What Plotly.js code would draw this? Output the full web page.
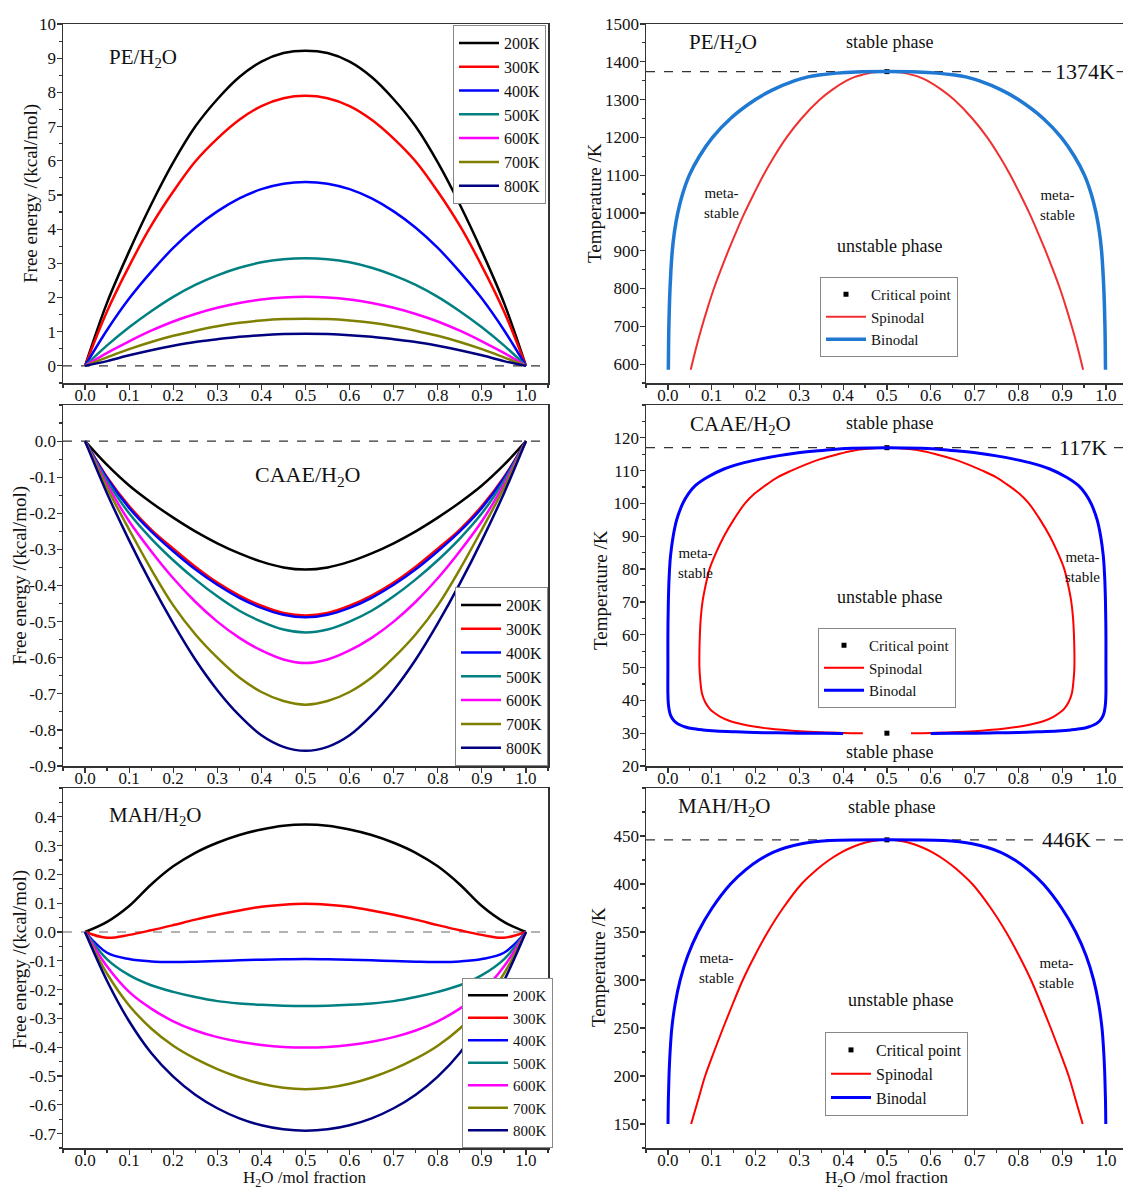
<!DOCTYPE html>
<html>
<head>
<meta charset="utf-8">
<script src="https://cdn.plot.ly/plotly-3.0.1.min.js"></script>
<style>html,body{margin:0;padding:0;background:#fff;overflow:hidden}#chart{width:1123px;height:1189px}</style>
</head>
<body>
<div id="chart"></div>
<script>
// ---------- data ----------
const tempLabels = ['200K', '300K', '400K', '500K', '600K', '700K', '800K'];
const xFrac = [0, 0.05, 0.1, 0.15, 0.2, 0.25, 0.3, 0.35, 0.4, 0.45, 0.5, 0.55, 0.6, 0.65, 0.7, 0.75, 0.8, 0.85, 0.9, 0.95, 1];

// PE/H2O free energy (kcal/mol)
const pe200 = [0, 1.85, 3.35, 4.72, 5.95, 7.0, 7.8, 8.45, 8.9, 9.15, 9.22, 9.15, 8.9, 8.45, 7.8, 7.0, 5.95, 4.72, 3.35, 1.85, 0];
const pe300 = [0, 1.6, 2.92, 4.1, 5.1, 5.98, 6.65, 7.2, 7.6, 7.83, 7.9, 7.83, 7.6, 7.2, 6.65, 5.98, 5.1, 4.1, 2.92, 1.6, 0];
const pe400 = [0, 1.05, 1.97, 2.75, 3.45, 4.04, 4.52, 4.9, 5.17, 5.33, 5.38, 5.33, 5.17, 4.9, 4.52, 4.04, 3.45, 2.75, 1.97, 1.05, 0];
const pe500 = [0, 0.6, 1.13, 1.6, 2.02, 2.37, 2.65, 2.87, 3.03, 3.12, 3.15, 3.12, 3.03, 2.87, 2.65, 2.37, 2.02, 1.6, 1.13, 0.6, 0];
const pe600 = [0, 0.38, 0.72, 1.03, 1.3, 1.52, 1.7, 1.84, 1.94, 2.0, 2.02, 2.0, 1.94, 1.84, 1.7, 1.52, 1.3, 1.03, 0.72, 0.38, 0];
const pe700 = [0, 0.25, 0.49, 0.7, 0.88, 1.03, 1.16, 1.26, 1.33, 1.37, 1.38, 1.37, 1.33, 1.26, 1.16, 1.03, 0.88, 0.7, 0.49, 0.25, 0];
const pe800 = [0, 0.14, 0.31, 0.46, 0.59, 0.7, 0.78, 0.85, 0.9, 0.93, 0.94, 0.93, 0.9, 0.85, 0.78, 0.7, 0.59, 0.46, 0.31, 0.14, 0];

// CAAE/H2O free energy
const ca200 = [0, -0.066, -0.123, -0.17, -0.212, -0.25, -0.283, -0.311, -0.334, -0.35, -0.356, -0.35, -0.334, -0.311, -0.283, -0.25, -0.212, -0.17, -0.123, -0.066, 0];
const ca300 = [0, -0.1, -0.18, -0.245, -0.298, -0.348, -0.392, -0.428, -0.456, -0.476, -0.483, -0.476, -0.456, -0.428, -0.392, -0.348, -0.298, -0.245, -0.18, -0.1, 0];
const ca400 = [0, -0.103, -0.185, -0.25, -0.305, -0.355, -0.398, -0.434, -0.462, -0.481, -0.488, -0.481, -0.462, -0.434, -0.398, -0.355, -0.305, -0.25, -0.185, -0.103, 0];
const ca500 = [0, -0.11, -0.2, -0.27, -0.33, -0.383, -0.43, -0.47, -0.5, -0.522, -0.53, -0.522, -0.5, -0.47, -0.43, -0.383, -0.33, -0.27, -0.2, -0.11, 0];
const ca600 = [0, -0.12, -0.222, -0.305, -0.38, -0.445, -0.5, -0.545, -0.58, -0.605, -0.615, -0.605, -0.58, -0.545, -0.5, -0.445, -0.38, -0.305, -0.222, -0.12, 0];
const ca700 = [0, -0.13, -0.245, -0.355, -0.455, -0.535, -0.6, -0.655, -0.695, -0.72, -0.73, -0.72, -0.695, -0.655, -0.6, -0.535, -0.455, -0.355, -0.245, -0.13, 0];
const ca800 = [0, -0.145, -0.275, -0.395, -0.505, -0.605, -0.69, -0.76, -0.815, -0.847, -0.858, -0.847, -0.815, -0.76, -0.69, -0.605, -0.505, -0.395, -0.275, -0.145, 0];

// MAH/H2O free energy
const ma200 = [0, 0.035, 0.09, 0.165, 0.228, 0.275, 0.31, 0.337, 0.356, 0.369, 0.373, 0.369, 0.356, 0.337, 0.31, 0.275, 0.228, 0.165, 0.09, 0.035, 0];
const ma300 = [0, -0.02, -0.01, 0.006, 0.024, 0.043, 0.06, 0.075, 0.088, 0.095, 0.098, 0.095, 0.088, 0.075, 0.06, 0.043, 0.024, 0.006, -0.01, -0.02, 0];
const ma400 = [0, -0.072, -0.094, -0.102, -0.104, -0.103, -0.101, -0.098, -0.096, -0.095, -0.094, -0.095, -0.096, -0.098, -0.101, -0.103, -0.104, -0.102, -0.094, -0.072, 0];
const ma500 = [0, -0.095, -0.15, -0.185, -0.208, -0.226, -0.24, -0.248, -0.253, -0.256, -0.257, -0.256, -0.253, -0.248, -0.24, -0.226, -0.208, -0.185, -0.15, -0.095, 0];
const ma600 = [0, -0.12, -0.208, -0.266, -0.31, -0.342, -0.365, -0.381, -0.392, -0.399, -0.401, -0.399, -0.392, -0.381, -0.365, -0.342, -0.31, -0.266, -0.208, -0.12, 0];
const ma700 = [0, -0.145, -0.255, -0.335, -0.395, -0.44, -0.476, -0.505, -0.527, -0.541, -0.546, -0.541, -0.527, -0.505, -0.476, -0.44, -0.395, -0.335, -0.255, -0.145, 0];
const ma800 = [0, -0.17, -0.31, -0.42, -0.502, -0.565, -0.612, -0.647, -0.671, -0.685, -0.69, -0.685, -0.671, -0.647, -0.612, -0.565, -0.502, -0.42, -0.31, -0.17, 0];

// Phase diagrams (x = H2O mol fraction, T in K)
const peBinX = [0.001, 0.0015, 0.0022, 0.0033, 0.0048, 0.007, 0.01, 0.015, 0.0225, 0.0335, 0.049, 0.072, 0.102, 0.143, 0.2, 0.238, 0.29, 0.32, 0.345, 0.385, 0.43, 0.5,
                0.57, 0.615, 0.655, 0.68, 0.71, 0.762, 0.8, 0.857, 0.898, 0.928, 0.951, 0.9665, 0.9775, 0.985, 0.99, 0.993, 0.9952, 0.9967, 0.9978, 0.9985, 0.999];
const peBinT = [585, 650, 700, 750, 800, 850, 900, 950, 1000, 1050, 1100, 1150, 1200, 1250, 1300, 1325, 1350, 1360, 1365, 1370, 1373, 1374,
                1373, 1370, 1365, 1360, 1350, 1325, 1300, 1250, 1200, 1150, 1100, 1050, 1000, 950, 900, 850, 800, 750, 700, 650, 585];
const peSpinX = [0.052, 0.066, 0.078, 0.091, 0.105, 0.121, 0.138, 0.156, 0.175, 0.196, 0.218, 0.243, 0.271, 0.305, 0.347, 0.374, 0.408, 0.427, 0.445, 0.46, 0.472, 0.5,
                 0.528, 0.54, 0.555, 0.573, 0.592, 0.626, 0.653, 0.695, 0.729, 0.757, 0.782, 0.804, 0.825, 0.844, 0.862, 0.879, 0.895, 0.909, 0.922, 0.934, 0.948];
const peSpinT = [585, 650, 700, 750, 800, 850, 900, 950, 1000, 1050, 1100, 1150, 1200, 1250, 1300, 1325, 1350, 1360, 1366, 1370, 1372, 1374,
                 1372, 1370, 1366, 1360, 1350, 1325, 1300, 1250, 1200, 1150, 1100, 1050, 1000, 950, 900, 850, 800, 750, 700, 650, 585];

const caBinX = [0.4, 0.35, 0.3, 0.25, 0.2, 0.15, 0.11, 0.08, 0.055, 0.04, 0.028, 0.018, 0.011, 0.006, 0.003, 0.001, 0.0, 0.0, 0.0, 0.001, 0.003, 0.006, 0.012, 0.02, 0.034, 0.047, 0.063, 0.09, 0.128, 0.17, 0.21, 0.25, 0.29, 0.33, 0.37, 0.42, 0.5,
                0.58, 0.63, 0.67, 0.71, 0.75, 0.79, 0.83, 0.872, 0.91, 0.937, 0.953, 0.966, 0.98, 0.988, 0.994, 0.997, 0.999, 1.0, 1.0, 1.0, 0.999, 0.997, 0.994, 0.989, 0.982, 0.972, 0.96, 0.945, 0.92, 0.89, 0.85, 0.8, 0.75, 0.7, 0.65, 0.6];
const caBinT = [29.9, 29.95, 30.0, 30.1, 30.2, 30.45, 30.7, 31, 31.4, 31.9, 32.5, 33.3, 34.3, 35.5, 37, 39, 42, 50, 60, 70, 78, 84, 90, 95, 100, 103, 105.5, 108, 110.5, 112.3, 113.5, 114.5, 115.3, 115.9, 116.4, 116.8, 117,
                116.8, 116.4, 115.9, 115.3, 114.5, 113.5, 112.3, 110.5, 108, 105.5, 103, 100, 95, 90, 84, 78, 70, 60, 50, 42, 39, 37, 35.5, 34.3, 33.3, 32.5, 31.9, 31.4, 31, 30.7, 30.45, 30.2, 30.1, 30.0, 29.95, 29.9];
const caSpinX = [0.445, 0.4, 0.35, 0.3, 0.26, 0.23, 0.2, 0.18, 0.16, 0.14, 0.12, 0.105, 0.095, 0.085, 0.078, 0.074, 0.072, 0.072, 0.073, 0.075, 0.079, 0.086, 0.095, 0.11, 0.128, 0.15, 0.176, 0.198, 0.228, 0.251, 0.282, 0.317, 0.348, 0.388, 0.419, 0.45, 0.5,
                 0.55, 0.581, 0.612, 0.652, 0.683, 0.718, 0.749, 0.772, 0.802, 0.824, 0.85, 0.872, 0.89, 0.905, 0.914, 0.921, 0.925, 0.927, 0.928, 0.928, 0.926, 0.922, 0.915, 0.905, 0.895, 0.88, 0.86, 0.84, 0.82, 0.8, 0.77, 0.74, 0.7, 0.65, 0.6, 0.555];
const caSpinT = [29.95, 30.05, 30.25, 30.6, 31.05, 31.45, 31.95, 32.4, 33.0, 33.8, 35, 36.3, 37.5, 39.5, 42, 46, 50, 55, 60, 65, 70, 75, 80, 85, 90, 95, 100, 103, 106, 108, 110, 112, 113.5, 115, 116, 116.6, 117,
                 116.6, 116, 115, 113.5, 112, 110, 108, 106, 103, 100, 95, 90, 85, 80, 75, 70, 65, 60, 55, 50, 46, 42, 39.5, 37.5, 36.3, 35, 33.8, 33.0, 32.4, 31.95, 31.45, 31.05, 30.6, 30.25, 30.05, 29.95];

const maBinX = [0.0003, 0.001, 0.0025, 0.005, 0.009, 0.0165, 0.028, 0.045, 0.069, 0.101, 0.143, 0.178, 0.208, 0.24, 0.27, 0.305, 0.335, 0.37, 0.5,
                0.63, 0.665, 0.695, 0.73, 0.76, 0.792, 0.822, 0.857, 0.899, 0.931, 0.955, 0.972, 0.9835, 0.991, 0.995, 0.9975, 0.999, 0.9997];
const maBinT = [150, 175, 200, 225, 250, 275, 300, 325, 350, 375, 400, 415, 425, 433, 438, 442, 444, 445.3, 446,
                445.3, 444, 442, 438, 433, 425, 415, 400, 375, 350, 325, 300, 275, 250, 225, 200, 175, 150];
const maSpinX = [0.053, 0.069, 0.085, 0.105, 0.126, 0.148, 0.171, 0.198, 0.228, 0.263, 0.305, 0.34, 0.368, 0.396, 0.419, 0.442, 0.465, 0.5,
                 0.535, 0.558, 0.581, 0.604, 0.632, 0.66, 0.695, 0.737, 0.772, 0.802, 0.829, 0.852, 0.874, 0.895, 0.915, 0.931, 0.947];
const maSpinT = [150, 175, 200, 225, 250, 275, 300, 325, 350, 375, 400, 415, 425, 433, 438, 442, 444.5, 446,
                 444.5, 442, 438, 433, 425, 415, 400, 375, 350, 325, 300, 275, 250, 225, 200, 175, 150];

const critX = 0.5;
const critPE = [1374];
const critCAAE = [117, 30];
const critMAH = [446];
const critLabels = ['1374K', '117K', '446K'];

const feTicksCA = [0, -0.1, -0.2, -0.3, -0.4, -0.5, -0.6, -0.7, -0.8, -0.9];
const feTickTextCA = ['0.0', '-0.1', '-0.2', '-0.3', '-0.4', '-0.5', '-0.6', '-0.7', '-0.8', '-0.9'];
const feTicksMA = [0.4, 0.3, 0.2, 0.1, 0, -0.1, -0.2, -0.3, -0.4, -0.5, -0.6, -0.7];
const feTickTextMA = ['0.4', '0.3', '0.2', '0.1', '0.0', '-0.1', '-0.2', '-0.3', '-0.4', '-0.5', '-0.6', '-0.7'];

// ---------- styling ----------
const FONT = 'Liberation Serif, Times New Roman, serif';
const tempColors = ['#000000', '#ff0000', '#0000ff', '#008080', '#ff00ff', '#808000', '#000080'];

const traces = [];
function addFE(series, xa, ya, leg) {
  series.forEach((ys, i) => {
    traces.push({
      x: xFrac, y: ys, xaxis: xa, yaxis: ya, legend: leg,
      type: 'scatter', mode: 'lines', name: tempLabels[i],
      line: {color: tempColors[i], width: 2.5, shape: 'spline', smoothing: 1}
    });
  });
}
addFE([pe200, pe300, pe400, pe500, pe600, pe700, pe800], 'x', 'y', 'legend');
addFE([ca200, ca300, ca400, ca500, ca600, ca700, ca800], 'x3', 'y3', 'legend3');
addFE([ma200, ma300, ma400, ma500, ma600, ma700, ma800], 'x5', 'y5', 'legend5');

function addPhase(xa, ya, leg, critT, sx, sy, bx, by, spinColor, binColor, binW) {
  traces.push({x: critT.map(() => critX), y: critT, xaxis: xa, yaxis: ya, legend: leg, type: 'scatter', mode: 'markers',
    name: 'Critical point', marker: {symbol: 'square', size: 5, color: '#000'}});
  traces.push({x: sx, y: sy, xaxis: xa, yaxis: ya, legend: leg, type: 'scatter', mode: 'lines', name: 'Spinodal',
    line: {color: spinColor, width: 2, shape: 'spline', smoothing: 1}});
  traces.push({x: bx, y: by, xaxis: xa, yaxis: ya, legend: leg, type: 'scatter', mode: 'lines', name: 'Binodal',
    line: {color: binColor, width: binW, shape: 'spline', smoothing: 1}});
}
addPhase('x2', 'y2', 'legend2', critPE, peSpinX, peSpinT, peBinX, peBinT, '#f03030', '#1f78d1', 3.5);
addPhase('x4', 'y4', 'legend4', critCAAE, caSpinX, caSpinT, caBinX, caBinT, '#ff0000', '#0000ff', 3);
addPhase('x6', 'y6', 'legend6', critMAH, maSpinX, maSpinT, maBinX, maBinT, '#ff0000', '#0000ff', 3);

const W = 1123, H = 1189;
const px = v => v / W, py = v => 1 - v / H;
const TICKF = {size: 17, color: '#111'};

function xAxis(domain, range, anchor) {
  return {
    domain: domain, range: range, anchor: anchor, showgrid: false, zeroline: false,
    showline: true, linecolor: '#333', linewidth: 1.5, mirror: true,
    ticks: 'outside', ticklen: 5, tickwidth: 1.2, tickcolor: '#333',
    tick0: 0, dtick: 0.1, tickformat: '.1f', ticklabelstandoff: -9,
    minor: {ticks: 'outside', ticklen: 3, tickcolor: '#333', dtick: 0.05, tick0: 0},
    tickfont: TICKF, automargin: false
  };
}
function yAxis(domain, range, anchor, extra) {
  return Object.assign({
    domain: domain, range: range, anchor: anchor, showgrid: false, zeroline: false,
    showline: true, linecolor: '#333', linewidth: 1.5, mirror: true,
    ticks: 'outside', ticklen: 5, tickwidth: 1.2, tickcolor: '#333', ticklabelstandoff: -3,
    tickfont: TICKF, automargin: false
  }, extra);
}

const rowTop = [[24, 383], [405, 766], [788, 1148]];
const dL = [px(63), px(548)];
const dR = [px(646), 1];
const dy = r => [py(rowTop[r][1]), py(rowTop[r][0])];
const mn = (d) => ({ticks: 'outside', ticklen: 3, dtick: d, tick0: 0, tickcolor: '#333'});

const layout = {
  width: W, height: H, margin: {l: 0, r: 0, t: 0, b: 0},
  paper_bgcolor: '#fff', plot_bgcolor: '#fff',
  font: {family: FONT, color: '#111'},
  xaxis: xAxis(dL, [-0.05, 1.05], 'y'),
  yaxis: yAxis(dy(0), [-0.5, 10], 'x', {tick0: 0, dtick: 1, minor: mn(0.5)}),
  xaxis2: xAxis(dR, [-0.05, 1.039], 'y2'),
  yaxis2: yAxis(dy(0), [550, 1500], 'x2', {tick0: 600, dtick: 100, minor: mn(50)}),
  xaxis3: xAxis(dL, [-0.05, 1.05], 'y3'),
  yaxis3: yAxis(dy(1), [-0.9, 0.1], 'x3', {tickmode: 'array', tickvals: feTicksCA, ticktext: feTickTextCA, minor: mn(0.05)}),
  xaxis4: xAxis(dR, [-0.05, 1.039], 'y4'),
  yaxis4: yAxis(dy(1), [20, 130], 'x4', {tickmode: 'array', tickvals: [20, 30, 40, 50, 60, 70, 80, 90, 100, 110, 120], minor: mn(5)}),
  xaxis5: xAxis(dL, [-0.05, 1.05], 'y5'),
  yaxis5: yAxis(dy(2), [-0.75, 0.5], 'x5', {tickmode: 'array', tickvals: feTicksMA, ticktext: feTickTextMA, minor: mn(0.05)}),
  xaxis6: xAxis(dR, [-0.05, 1.039], 'y6'),
  yaxis6: yAxis(dy(2), [125, 500], 'x6', {tickmode: 'array', tickvals: [150, 200, 250, 300, 350, 400, 450], minor: mn(25)}),
  shapes: [],
  annotations: []
};

// dashed reference lines
[['x', 'y', 0, '#333'], ['x3', 'y3', 0, '#333'], ['x5', 'y5', 0, '#666'], ['x2', 'y2', critPE[0], '#333'], ['x4', 'y4', critCAAE[0], '#333'], ['x6', 'y6', critMAH[0], '#333']].forEach(s => {
  layout.shapes.push({type: 'line', layer: 'below', xref: s[0] + ' domain', yref: s[1], x0: 0, x1: 1, y0: s[2], y1: s[2],
    line: {color: s[3], width: 1.2, dash: 'dash'}});
});

function ann(xa, ya, x, y, text, size, anchor, extra) {
  layout.annotations.push(Object.assign({xref: xa, yref: ya, x: x, y: y, text: text, showarrow: false,
    xanchor: anchor || 'center', yanchor: 'middle', font: {size: size, color: '#111', family: FONT}}, extra || {}));
}
// axis titles
const fe = 'Free energy /(kcal/mol)';
const tk = 'Temperature /K';
const xt = 'H<sub>2</sub>O /mol fraction';
ann('paper', 'paper', px(31), py(194), fe, 19, 'center', {textangle: -90});
ann('paper', 'paper', px(20), py(576), fe, 19, 'center', {textangle: -90});
ann('paper', 'paper', px(20), py(960), fe, 19, 'center', {textangle: -90});
ann('paper', 'paper', px(594), py(203), tk, 19, 'center', {textangle: -90});
ann('paper', 'paper', px(600), py(590), tk, 19, 'center', {textangle: -90});
ann('paper', 'paper', px(598), py(967), tk, 19, 'center', {textangle: -90});
ann('paper', 'paper', px(305), py(1179), xt, 17);
ann('paper', 'paper', px(887), py(1179), xt, 17);

const sys = ['PE/H<sub>2</sub>O', 'CAAE/H<sub>2</sub>O', 'MAH/H<sub>2</sub>O'];
ann('x', 'y', 0.05, 9.0, sys[0], 21, 'left');
ann('x3', 'y3', 0.505, -0.0975, sys[1], 22);
ann('x5', 'y5', 0.05, 0.403, sys[2], 21, 'left');

ann('x2', 'y2', 0.043, 1450, sys[0], 21, 'left');
ann('x2', 'y2', 0.505, 1452, 'stable phase', 18);
ann('x2', 'y2', 0.952, critPE[0], critLabels[0], 22, 'center', {bgcolor: '#fff'});
ann('x2', 'y2', 0.123, 1025, 'meta-<br>stable', 15);
ann('x2', 'y2', 0.89, 1020, 'meta-<br>stable', 15);
ann('x2', 'y2', 0.505, 913, 'unstable phase', 18);

ann('x4', 'y4', 0.046, 124, sys[1], 21, 'left');
ann('x4', 'y4', 0.505, 124.6, 'stable phase', 18);
ann('x4', 'y4', 0.947, critCAAE[0], critLabels[1], 22, 'center', {bgcolor: '#fff'});
ann('x4', 'y4', 0.062, 82, 'meta-<br>stable', 15);
ann('x4', 'y4', 0.947, 80.5, 'meta-<br>stable', 15);
ann('x4', 'y4', 0.507, 71.5, 'unstable phase', 18);
ann('x4', 'y4', 0.505, 24.3, 'stable phase', 18);

ann('x6', 'y6', 0.018, 480.7, sys[2], 21, 'left');
ann('x6', 'y6', 0.511, 479.7, 'stable phase', 18);
ann('x6', 'y6', 0.909, critMAH[0], critLabels[2], 22, 'center', {bgcolor: '#fff'});
ann('x6', 'y6', 0.112, 312, 'meta-<br>stable', 15);
ann('x6', 'y6', 0.888, 307, 'meta-<br>stable', 15);
ann('x6', 'y6', 0.53, 279, 'unstable phase', 18);

function legendAt(x, y, size, yanchor) {
  return {x: px(x), y: py(y), xanchor: 'left', yanchor: yanchor || 'top', bgcolor: '#fff', bordercolor: '#888', borderwidth: 1,
    font: {size: size, color: '#111', family: FONT}, tracegroupgap: 0, itemwidth: 40};
}
layout.legend = legendAt(453, 25, 16);
layout.legend3 = legendAt(455, 766, 16, 'bottom');
layout.legend5 = legendAt(462, 1148, 15, 'bottom');
layout.legend2 = legendAt(820, 277, 15);
layout.legend4 = legendAt(818, 628, 15);
layout.legend6 = legendAt(825, 1032, 16);

Plotly.newPlot('chart', traces, layout, {displayModeBar: false, staticPlot: true});
</script>
</body>
</html>
